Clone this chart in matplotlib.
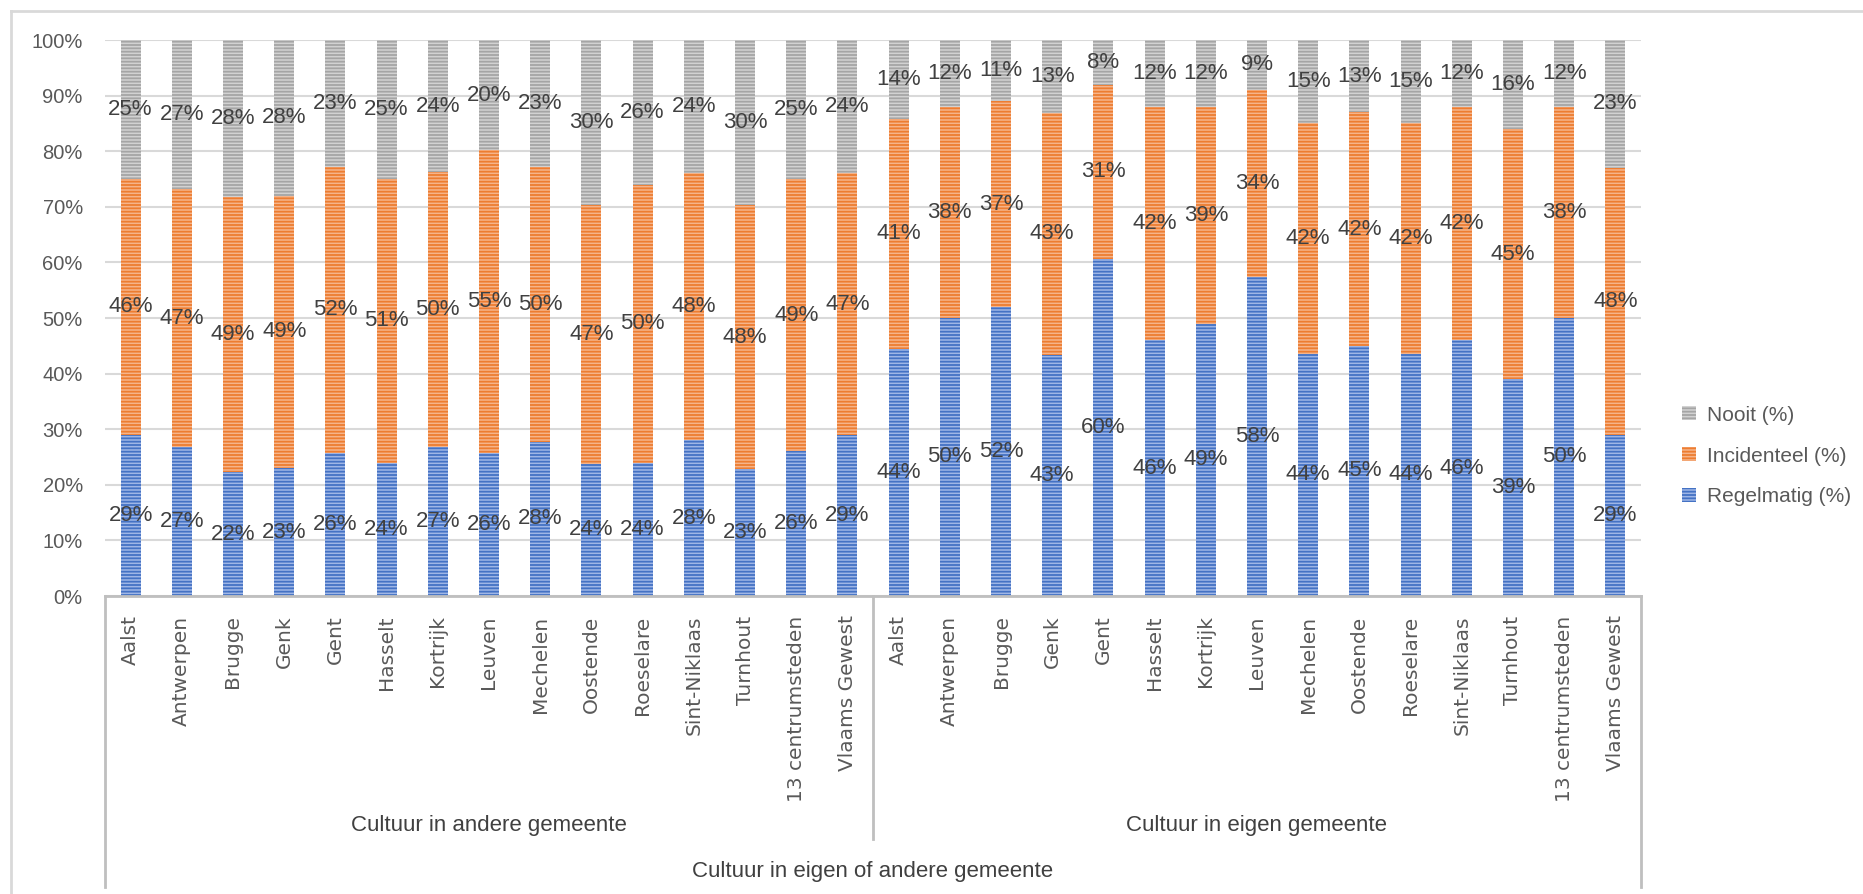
import matplotlib
matplotlib.use("Agg")
import matplotlib.pyplot as plt
import matplotlib.transforms as mtransforms
from matplotlib.lines import Line2D
import numpy as np

plt.rcParams['hatch.linewidth'] = 1.3

cities = ["Aalst", "Antwerpen", "Brugge", "Genk", "Gent", "Hasselt", "Kortrijk",
          "Leuven", "Mechelen", "Oostende", "Roeselare", "Sint-Niklaas", "Turnhout",
          "13 centrumsteden", "Vlaams Gewest"]
groups = ["Cultuur in andere gemeente", "Cultuur in eigen gemeente"]
outer_label = "Cultuur in eigen of andere gemeente"

# Cultuur in andere gemeente
andere_regelmatig = [29, 27, 22, 23, 26, 24, 27, 26, 28, 24, 24, 28, 23, 26, 29]
andere_incidenteel = [46, 47, 49, 49, 52, 51, 50, 55, 50, 47, 50, 48, 48, 49, 47]
andere_nooit = [25, 27, 28, 28, 23, 25, 24, 20, 23, 30, 26, 24, 30, 25, 24]
# Cultuur in eigen gemeente
eigen_regelmatig = [44, 50, 52, 43, 60, 46, 49, 58, 44, 45, 44, 46, 39, 50, 29]
eigen_incidenteel = [41, 38, 37, 43, 31, 42, 39, 34, 42, 42, 42, 42, 45, 38, 48]
eigen_nooit = [14, 12, 11, 13, 8, 12, 12, 9, 15, 13, 15, 12, 16, 12, 23]

series_names = ["Regelmatig (%)", "Incidenteel (%)", "Nooit (%)"]
y_ticks = [0, 10, 20, 30, 40, 50, 60, 70, 80, 90, 100]

regelmatig = np.array(andere_regelmatig + eigen_regelmatig, float)
incidenteel = np.array(andere_incidenteel + eigen_incidenteel, float)
nooit = np.array(andere_nooit + eigen_nooit, float)
labels = cities + cities

W, H = 1863, 894
fig = plt.figure(figsize=(W / 100, H / 100), dpi=100)
ax = fig.add_axes([105 / W, 1 - 596 / H, (1641 - 105) / W, (596 - 40) / H])

total = regelmatig + incidenteel + nooit
vals = [regelmatig, incidenteel, nooit]
light = ["#9fb6e6", "#f6b48a", "#d2d2d2"]
dark = ["#4472c4", "#ed7d31", "#a5a5a5"]
x = np.arange(len(labels))
bottom = np.zeros(len(labels))
handles = []
label_font = "Liberation Sans"
for v, lc, dc, name in zip(vals, light, dark, series_names):
    h = v / total * 100
    b = ax.bar(x, h, 0.39, bottom=bottom, color=lc, edgecolor=dc, linewidth=0,
               hatch='-----', label=name, zorder=2)
    handles.append(b)
    for xi, bi, hi, vi in zip(x, bottom, h, v):
        ax.text(xi, bi + hi / 2, f"{vi:.0f}%", ha='center', va='center',
                fontsize=16, color='#404040', family=label_font, zorder=3)
    bottom = bottom + h

ax.set_xlim(-0.5, len(labels) - 0.5)
ax.set_ylim(0, 100)
ax.set_yticks(y_ticks)
ax.set_yticklabels([f"{t}%" for t in y_ticks], fontsize=14.5, color='#595959',
                   family=label_font)
ax.yaxis.grid(True, color='#d9d9d9', linewidth=1.5, zorder=0)
ax.set_axisbelow(True)
for s in ['top', 'right', 'left']:
    ax.spines[s].set_visible(False)
ax.spines['bottom'].set_color('#bfbfbf')
ax.spines['bottom'].set_linewidth(2)
ax.spines['bottom'].set_zorder(4)
ax.tick_params(axis='y', length=0, pad=16)
ax.tick_params(axis='x', length=0, pad=14)
ax.set_xticks(x)
ax.set_xticklabels(labels, rotation=90, fontsize=14.5, color='#595959',
                   family='DejaVu Sans', va='top')

# multi-level category axis
trans = mtransforms.blended_transform_factory(ax.transData, fig.transFigure)
def fy(py):
    return 1 - py / H
for xs, y1 in [(-0.5, 887), (14.5, 839), (len(labels) - 0.5, 887)]:
    fig.add_artist(Line2D([xs, xs], [fy(596), fy(y1)], transform=trans,
                          color='#bfbfbf', linewidth=2))
for gi, g in enumerate(groups):
    fig.text(gi * 15 + 7, fy(826), g, transform=trans, ha='center', va='center',
             fontsize=16, color='#404040', family=label_font)
fig.text((len(labels) - 1) / 2, fy(872), outer_label, transform=trans,
         ha='center', va='center', fontsize=16, color='#404040', family=label_font)

# chart border
fig.add_artist(Line2D([11 / W, 1], [fy(11), fy(11)], color='#d9d9d9', linewidth=2))
fig.add_artist(Line2D([11 / W, 11 / W], [fy(11), 0], color='#d9d9d9', linewidth=2))

leg = fig.legend(handles[::-1], series_names[::-1], loc='center left',
                 bbox_to_anchor=(1682 / W, fy(456)), frameon=False,
                 prop={'family': label_font, 'size': 15}, handlelength=0.65,
                 handleheight=0.65, handletextpad=0.55, labelspacing=1.05,
                 borderpad=0, borderaxespad=0)
for t in leg.get_texts():
    t.set_color('#595959')

fig.savefig("out.png", dpi=100)
